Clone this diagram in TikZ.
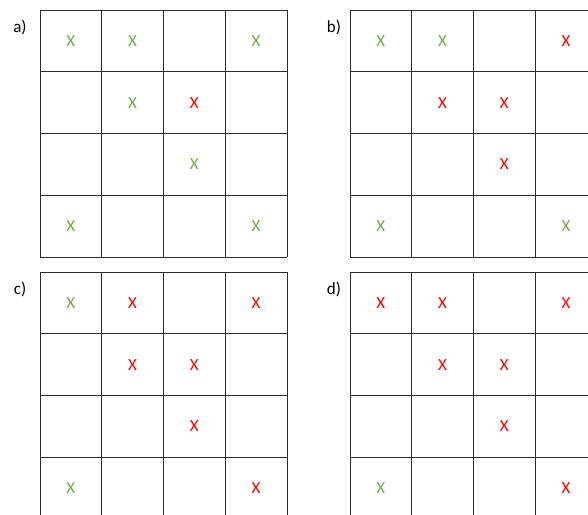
\documentclass[tikz,border=0pt]{standalone}
\usepackage{fontspec}
\setmainfont{Carlito}
\definecolor{markGreen}{HTML}{70AD47}
\definecolor{markRed}{HTML}{FF0000}
\definecolor{gridLine}{HTML}{2B2B2B}

\begin{document}
\begin{tikzpicture}[
  x=1pt, y=-1pt,
  gridline/.style={draw=gridLine, line width=1pt},
  markg/.style={text=markGreen, font=\fontsize{17}{17}\selectfont, inner sep=0pt},
  markr/.style={text=markRed, font=\fontsize{17}{17}\selectfont, inner sep=0pt},
  panel/.style={font=\fontsize{17}{17}\selectfont, inner sep=0pt}
]
  \useasboundingbox (0,0) rectangle (588,514);
  \clip (0,0) rectangle (588,514);

  % one 4x4 grid per panel
  \foreach \p/\gx/\gy/\lx/\marks in {
    a/40/10/20/{0/0/g,1/0/g,3/0/g,1/1/g,2/1/r,2/2/g,0/3/g,3/3/g},
    b/350/10/334/{0/0/g,1/0/g,3/0/r,1/1/r,2/1/r,2/2/r,0/3/g,3/3/g},
    c/40/272/20/{0/0/g,1/0/r,3/0/r,1/1/r,2/1/r,2/2/r,0/3/g,3/3/r},
    d/350/272/334/{0/0/r,1/0/r,3/0/r,1/1/r,2/1/r,2/2/r,0/3/g,3/3/r}} {
    \node[panel] (lbl-\p) at (\lx,\gy+17) {\p)};
    \foreach \i in {0,...,4} {
      \draw[gridline] ({\gx+61.75*\i},\gy) -- ({\gx+61.75*\i},\gy+247);
      \draw[gridline] (\gx,{\gy+61.75*\i}) -- (\gx+247,{\gy+61.75*\i});
    }
    \foreach \c/\r/\k in \marks
      \node[mark\k] (\p-\c-\r) at ({\gx+61.75*(\c+0.5)},{\gy+61.75*(\r+0.5)}) {X};
  }

\end{tikzpicture}
\end{document}
